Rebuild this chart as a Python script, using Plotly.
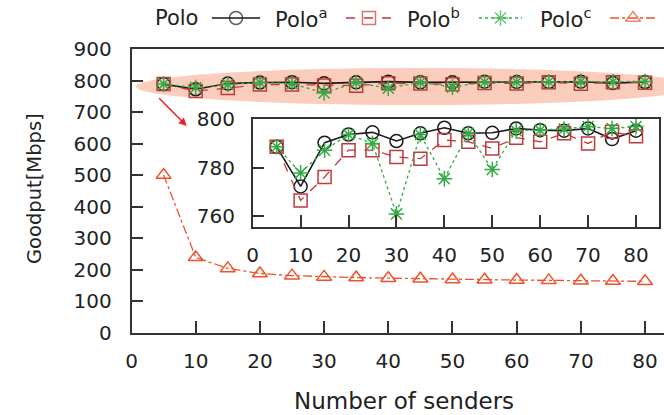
import plotly.graph_objects as go

# Number of senders (x) and goodput in Mbps for each Polo variant
senders = [5, 10, 15, 20, 25, 30, 35, 40, 45, 50, 55, 60, 65, 70, 75, 80]
polo = [788.6, 772.2, 790.3, 793.7, 794.6, 791.0, 794.2, 796.5, 794.2, 794.4,
        796.2, 795.5, 795.3, 796.2, 791.8, 795.3]
polo_a = [788.6, 766.4, 776.1, 787.2, 787.2, 784.4, 783.7, 791.4, 790.7, 787.9,
          792.4, 790.7, 794.2, 790.0, 794.8, 793.0]
polo_b = [788.6, 777.8, 787.2, 793.7, 790.0, 760.8, 793.7, 775.4, 794.2, 779.2,
          795.3, 795.5, 796.0, 797.0, 796.2, 797.0]
polo_c = [500, 239, 204, 188, 181, 177, 175, 173, 171, 169, 168, 167, 166, 165,
          164, 163]

main_xticks = [0, 10, 20, 30, 40, 50, 60, 70, 80]
main_yticks = [0, 100, 200, 300, 400, 500, 600, 700, 800, 900]
inset_xticks = [0, 10, 20, 30, 40, 50, 60, 70, 80]
inset_yticks = [760, 780, 800]

W, H = 664, 415
FONT = "DejaVu Sans"
TXT = "#222222"
AX = "#333333"

BLACK = "#1a1a1a"
RED = "#c0393b"
GREEN = "#33aa44"
ORANGE = "#f2502a"


def px(x):
    return x / W


def py(y):
    return 1 - y / H


series = [
    dict(name="Polo", y=polo, color=BLACK, dash="solid", symbol="circle-open", width=1.6),
    dict(name="Polo<sup>a</sup>", y=polo_a, color=RED, dash="dash", symbol="square-open", width=1.3),
    dict(name="Polo<sup>b</sup>", y=polo_b, color=GREEN, dash="dot", symbol="asterisk-open", width=1.3),
    dict(name="Polo<sup>c</sup>", y=polo_c, color=ORANGE, dash="dashdot", symbol="triangle-up-open", width=1.3),
]

fig = go.Figure()

# main panel: all four series
for s in series:
    fig.add_trace(go.Scatter(
        x=senders, y=s["y"], mode="lines+markers", showlegend=False,
        line=dict(color=s["color"], dash=s["dash"], width=s["width"]),
        marker=dict(symbol=s["symbol"], size=13, color=s["color"],
                    line=dict(color=s["color"], width=1.5)),
        xaxis="x", yaxis="y",
    ))

# zoomed inset: the three upper series
for s in series[:3]:
    fig.add_trace(go.Scatter(
        x=senders, y=s["y"], mode="lines+markers", showlegend=False,
        line=dict(color=s["color"], dash=s["dash"], width=s["width"]),
        marker=dict(symbol=s["symbol"], size=13, color=s["color"],
                    line=dict(color=s["color"], width=1.5)),
        xaxis="x2", yaxis="y2", cliponaxis=False,
    ))

# key: label followed by a short line sample with a marker
key_text_x = [153, 273, 405, 538]
key_sample_x = [(212, 260), (346, 392), (479, 522), (610, 656)]
key_y = 18
for s, tx, (a, b) in zip(series, key_text_x, key_sample_x):
    fig.add_annotation(text=s["name"], x=px(tx), y=py(key_y), xref="paper", yref="paper",
                       xanchor="left", yanchor="middle", showarrow=False,
                       font=dict(family=FONT, size=21, color=TXT))
    fig.add_trace(go.Scatter(
        x=[a, (a + b) / 2, b], y=[key_y] * 3, mode="lines+markers", showlegend=False,
        line=dict(color=s["color"], dash=s["dash"], width=s["width"]),
        marker=dict(symbol=s["symbol"], size=[0, 13, 0], color=s["color"],
                    line=dict(color=s["color"], width=1.5)),
        xaxis="x3", yaxis="y3", cliponaxis=False,
    ))

axis_common = dict(showline=True, linecolor=AX, linewidth=1.5, mirror=True,
                   ticks="inside", ticklen=12, tickwidth=1.5, tickcolor=AX,
                   showgrid=False, zeroline=False, automargin=False,
                   tickfont=dict(family=FONT, size=20, color=TXT))

main_left, main_right = 131.5, 664
main_top, main_bottom = 49, 332.7
inset_left, inset_right = 252.7, 659
inset_top, inset_bottom = 119.3, 226.7

fig.update_layout(
    template="none",
    width=W, height=H,
    margin=dict(l=0, r=0, t=0, b=0, autoexpand=False),
    paper_bgcolor="white", plot_bgcolor="rgba(0,0,0,0)",
    showlegend=False,
    xaxis=dict(domain=[px(main_left), px(main_right)], range=[0, 82.95],
               tickvals=main_xticks, ticklabelstandoff=10, **axis_common),
    yaxis=dict(domain=[py(main_bottom), py(main_top)], range=[0, 900],
               tickvals=main_yticks, ticklabelstandoff=14, **axis_common),
    xaxis2=dict(domain=[px(inset_left), px(inset_right)], range=[0, 84.8],
                tickvals=inset_xticks, anchor="y2", ticklabelstandoff=10, **axis_common),
    yaxis2=dict(domain=[py(inset_bottom), py(inset_top)], range=[755.5, 800],
                tickvals=inset_yticks, anchor="x2", ticklabelstandoff=12, **axis_common),
    xaxis3=dict(domain=[0, 1], range=[0, W], visible=False, anchor="y3", automargin=False),
    yaxis3=dict(domain=[0, 1], range=[H, 0], visible=False, anchor="x3", automargin=False),
)

# highlight around the saturated series
fig.add_shape(type="circle", xref="x", yref="y", x0=0.7, x1=88, y0=722, y1=840,
              fillcolor="#fbcdbd", line=dict(width=0), layer="below")

# arrow pointing from the highlight to the inset
fig.add_annotation(x=px(186.7), y=py(126), xref="paper", yref="paper",
                   ax=-29, ay=-29.3, text="", showarrow=True,
                   arrowcolor="#e8262a", arrowwidth=1.6, arrowhead=2, arrowsize=1)

# axis titles
fig.add_annotation(text="Number of senders", x=px(404), y=py(401), xref="paper", yref="paper",
                   xanchor="center", yanchor="middle", showarrow=False,
                   font=dict(family=FONT, size=23, color=TXT))
fig.add_annotation(text="Goodput[Mbps]", x=px(34), y=py(189), xref="paper", yref="paper",
                   xanchor="center", yanchor="middle", showarrow=False, textangle=-90,
                   font=dict(family=FONT, size=19.5, color=TXT))

fig.write_html("out.html")
